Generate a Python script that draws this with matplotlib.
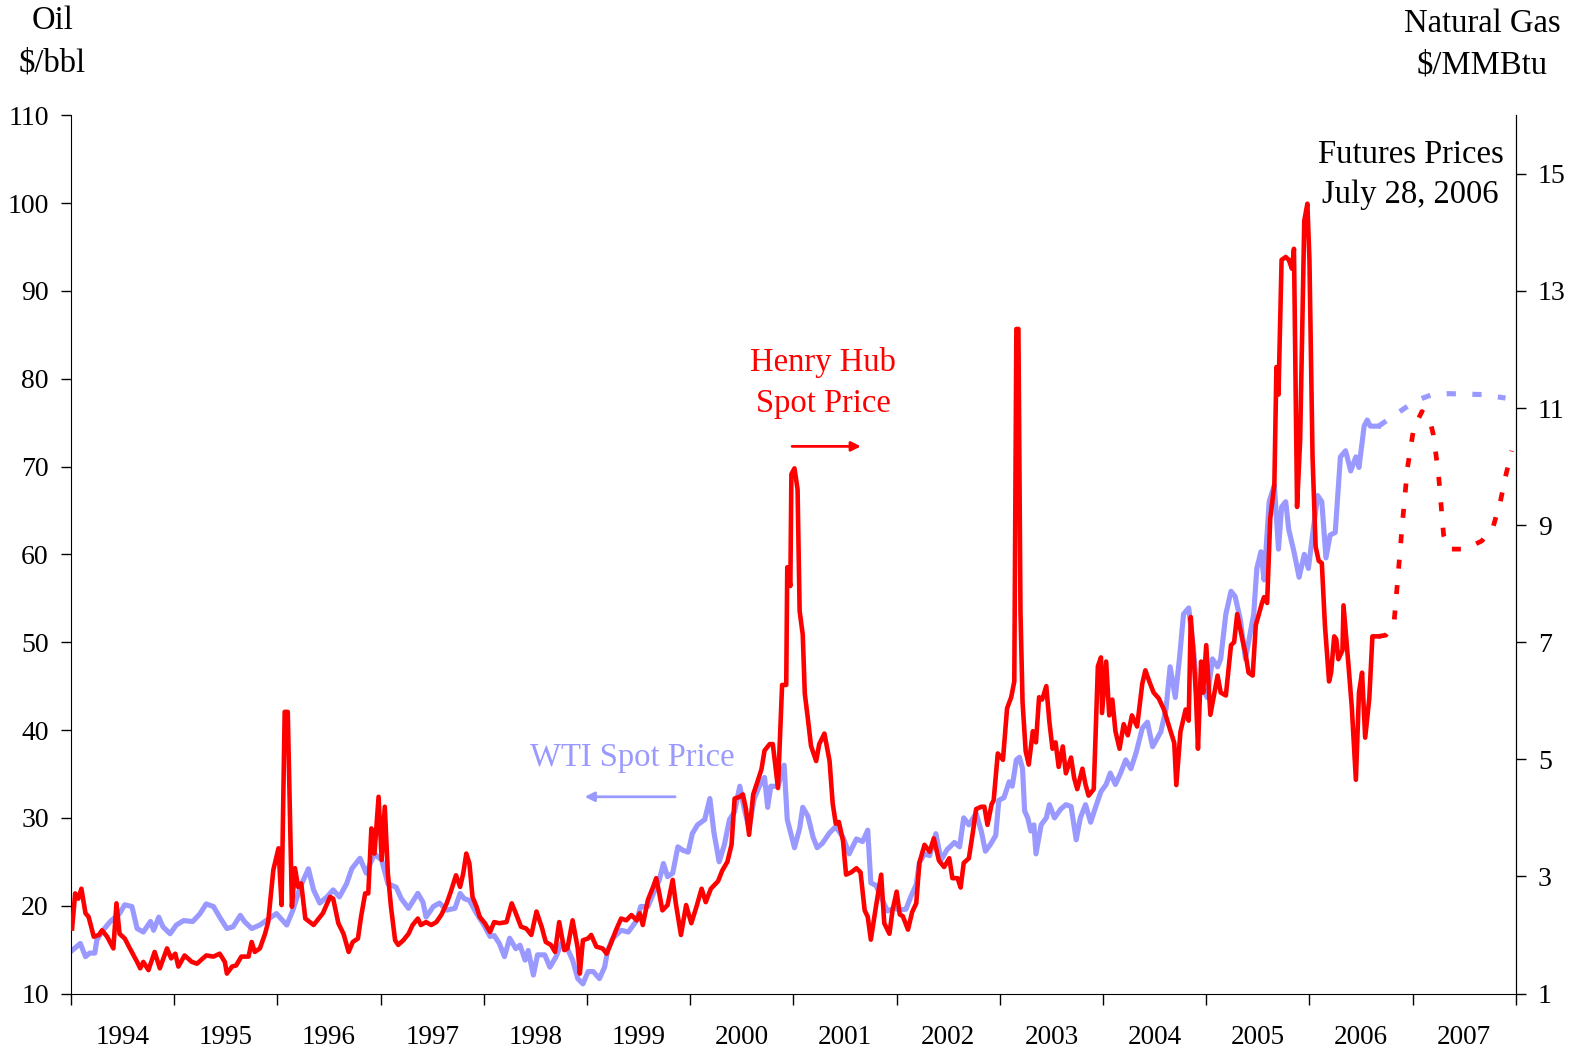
import matplotlib
matplotlib.use('Agg')
import matplotlib.pyplot as plt
from matplotlib.ticker import FixedLocator, NullFormatter

plt.rcParams['font.family'] = ['Liberation Serif', 'DejaVu Serif']

# WTI spot price ($/bbl), fractional years
wti_x = [1994.01, 1994.09, 1994.14, 1994.18, 1994.23, 1994.25, 1994.31, 1994.38, 1994.47, 1994.52,
         1994.59, 1994.64, 1994.70, 1994.77, 1994.80, 1994.85, 1994.89, 1994.96, 1995.02, 1995.09,
         1995.18, 1995.25, 1995.31, 1995.38, 1995.44, 1995.51, 1995.57, 1995.64, 1995.68, 1995.75,
         1995.83, 1995.89, 1995.99, 1996.09, 1996.15, 1996.22, 1996.30, 1996.35, 1996.41, 1996.48,
         1996.54, 1996.60, 1996.67, 1996.72, 1996.80, 1996.86, 1996.94, 1997.01, 1997.07, 1997.15,
         1997.20, 1997.27, 1997.36, 1997.41, 1997.44, 1997.51, 1997.57, 1997.64, 1997.72, 1997.77,
         1997.81, 1997.86, 1997.93, 1997.99, 1998.06, 1998.10, 1998.15, 1998.20, 1998.25, 1998.31,
         1998.35, 1998.40, 1998.43, 1998.48, 1998.52, 1998.59, 1998.64, 1998.70, 1998.75, 1998.81,
         1998.86, 1998.91, 1998.96, 1999.01, 1999.06, 1999.12, 1999.17, 1999.20, 1999.25, 1999.33,
         1999.40, 1999.48, 1999.52, 1999.59, 1999.65, 1999.70, 1999.74, 1999.78, 1999.83, 1999.88,
         1999.93, 1999.98, 2000.02, 2000.07, 2000.14, 2000.19, 2000.23, 2000.28, 2000.33, 2000.38,
         2000.43, 2000.48, 2000.52, 2000.57, 2000.62, 2000.67, 2000.72, 2000.75, 2000.78, 2000.85,
         2000.91, 2000.94, 2001.01, 2001.06, 2001.09, 2001.14, 2001.19, 2001.23, 2001.28, 2001.35,
         2001.41, 2001.48, 2001.54, 2001.61, 2001.67, 2001.72, 2001.75, 2001.80, 2001.86, 2001.91,
         2001.98, 2002.03, 2002.09, 2002.14, 2002.19, 2002.22, 2002.27, 2002.32, 2002.38, 2002.43,
         2002.49, 2002.56, 2002.61, 2002.65, 2002.70, 2002.77, 2002.82, 2002.86, 2002.91, 2002.96,
         2002.99, 2003.04, 2003.09, 2003.12, 2003.16, 2003.19, 2003.22, 2003.24, 2003.27, 2003.30,
         2003.33, 2003.35, 2003.40, 2003.45, 2003.48, 2003.53, 2003.59, 2003.64, 2003.69, 2003.74,
         2003.78, 2003.83, 2003.88, 2003.93, 2003.98, 2004.03, 2004.07, 2004.12, 2004.17, 2004.22,
         2004.27, 2004.32, 2004.38, 2004.43, 2004.48, 2004.56, 2004.61, 2004.65, 2004.70, 2004.74,
         2004.78, 2004.83, 2004.88, 2004.91, 2004.96, 2005.01, 2005.06, 2005.11, 2005.14, 2005.19,
         2005.24, 2005.28, 2005.33, 2005.38, 2005.41, 2005.46, 2005.49, 2005.53, 2005.56, 2005.61,
         2005.66, 2005.70, 2005.73, 2005.77, 2005.80, 2005.85, 2005.90, 2005.95, 2005.99, 2006.03,
         2006.08, 2006.12, 2006.16, 2006.20, 2006.25, 2006.30, 2006.35, 2006.40, 2006.45, 2006.48,
         2006.53, 2006.56, 2006.59, 2006.67]
wti = [14.9, 15.7, 14.2, 14.6, 14.6, 16.1, 17.2, 18.2, 19.1, 20.1,
       19.9, 17.4, 17.0, 18.2, 17.2, 18.7, 17.6, 16.8, 17.8, 18.3,
       18.2, 19.1, 20.2, 19.9, 18.7, 17.4, 17.6, 18.9, 18.2, 17.4,
       17.8, 18.3, 19.1, 17.8, 19.5, 22.1, 24.2, 21.8, 20.3, 21.0,
       21.8, 21.0, 22.5, 24.2, 25.4, 23.7, 25.9, 25.2, 22.5, 22.1,
       20.8, 19.7, 21.4, 20.4, 18.7, 19.9, 20.3, 19.5, 19.7, 21.4,
       20.8, 20.6, 19.1, 18.0, 16.5, 16.6, 15.7, 14.2, 16.3, 15.1,
       15.5, 13.8, 14.9, 12.1, 14.4, 14.4, 13.0, 14.2, 15.7, 15.1,
       13.8, 11.7, 11.1, 12.5, 12.5, 11.7, 13.0, 14.9, 16.3, 17.2,
       17.0, 18.3, 19.9, 19.9, 21.6, 22.9, 24.8, 23.3, 23.7, 26.7,
       26.3, 26.1, 28.2, 29.2, 29.8, 32.2, 28.3, 25.0, 26.9, 29.8,
       30.7, 33.6, 31.2, 28.8, 32.2, 33.6, 34.6, 31.2, 33.6, 33.6,
       36.0, 29.8, 26.6, 28.8, 31.2, 30.2, 27.8, 26.6, 27.1, 28.3,
       29.0, 27.8, 25.9, 27.6, 27.3, 28.6, 22.6, 22.3, 20.7, 19.4,
       19.7, 19.5, 19.6, 21.1, 22.4, 24.9, 25.9, 25.7, 28.2, 25.2,
       26.4, 27.2, 26.7, 30.0, 29.2, 30.5, 28.5, 26.2, 27.0, 28.0,
       32.0, 32.3, 34.1, 33.6, 36.6, 36.9, 35.6, 30.8, 30.0, 28.5,
       29.2, 25.9, 29.2, 30.0, 31.5, 30.0, 31.0, 31.5, 31.3, 27.5,
       30.0, 31.5, 29.5, 31.3, 33.0, 33.8, 35.1, 33.8, 35.1, 36.6,
       35.6, 37.4, 40.2, 40.9, 38.1, 39.8, 42.4, 47.2, 43.7, 48.1,
       53.2, 53.9, 48.8, 43.7, 44.9, 43.7, 48.1, 47.2, 48.1, 53.2,
       55.8, 55.2, 52.6, 48.1, 50.0, 53.2, 58.4, 60.3, 57.1, 66.0,
       67.9, 60.6, 65.4, 66.0, 62.8, 60.3, 57.4, 60.0, 58.4, 62.2,
       66.7, 66.0, 59.6, 62.2, 62.5, 71.1, 71.8, 69.5, 71.1, 69.9,
       74.6, 75.3, 74.6, 74.6]

# WTI futures (July 28, 2006)
wti_fut_x = [2006.67, 2006.83, 2007.03, 2007.19, 2007.35, 2007.67, 2007.90]
wti_fut = [74.6, 75.9, 77.5, 78.2, 78.3, 78.2, 77.8]

# Henry Hub spot price ($/MMBtu)
hh_x = [1994.01, 1994.04, 1994.07, 1994.10, 1994.14, 1994.17, 1994.22, 1994.27, 1994.30, 1994.35,
        1994.41, 1994.44, 1994.47, 1994.52, 1994.57, 1994.64, 1994.67, 1994.70, 1994.75, 1994.81,
        1994.86, 1994.93, 1994.97, 1995.01, 1995.04, 1995.10, 1995.17, 1995.22, 1995.31, 1995.38,
        1995.44, 1995.49, 1995.51, 1995.56, 1995.60, 1995.65, 1995.72, 1995.75, 1995.78, 1995.83,
        1995.88, 1995.91, 1995.96, 1996.01, 1996.04, 1996.07, 1996.10, 1996.14, 1996.17, 1996.20,
        1996.23, 1996.27, 1996.35, 1996.44, 1996.51, 1996.54, 1996.59, 1996.64, 1996.69, 1996.73,
        1996.78, 1996.81, 1996.85, 1996.88, 1996.91, 1996.94, 1996.98, 1997.01, 1997.04, 1997.07,
        1997.10, 1997.14, 1997.17, 1997.22, 1997.27, 1997.31, 1997.36, 1997.39, 1997.44, 1997.49,
        1997.54, 1997.59, 1997.64, 1997.68, 1997.73, 1997.77, 1997.80, 1997.83, 1997.86, 1997.89,
        1997.93, 1997.96, 1998.01, 1998.06, 1998.10, 1998.15, 1998.22, 1998.27, 1998.31, 1998.36,
        1998.41, 1998.46, 1998.51, 1998.56, 1998.60, 1998.65, 1998.69, 1998.73, 1998.78, 1998.81,
        1998.86, 1998.91, 1998.93, 1998.96, 1999.01, 1999.04, 1999.09, 1999.15, 1999.19, 1999.23,
        1999.28, 1999.33, 1999.38, 1999.43, 1999.48, 1999.51, 1999.54, 1999.59, 1999.64, 1999.67,
        1999.70, 1999.73, 1999.78, 1999.83, 1999.86, 1999.91, 1999.96, 2000.01, 2000.06, 2000.11,
        2000.15, 2000.20, 2000.27, 2000.31, 2000.36, 2000.40, 2000.43, 2000.48, 2000.51, 2000.54,
        2000.57, 2000.61, 2000.65, 2000.69, 2000.72, 2000.77, 2000.80, 2000.85, 2000.89, 2000.93,
        2000.94, 2000.97, 2000.98, 2001.01, 2001.04, 2001.06, 2001.09, 2001.11, 2001.14, 2001.17,
        2001.22, 2001.25, 2001.30, 2001.35, 2001.38, 2001.41, 2001.44, 2001.48, 2001.51, 2001.56,
        2001.61, 2001.65, 2001.69, 2001.72, 2001.75, 2001.80, 2001.85, 2001.88, 2001.93, 2001.96,
        2002.00, 2002.03, 2002.06, 2002.11, 2002.15, 2002.19, 2002.22, 2002.27, 2002.32, 2002.36,
        2002.41, 2002.46, 2002.51, 2002.54, 2002.59, 2002.62, 2002.65, 2002.70, 2002.74, 2002.77,
        2002.82, 2002.85, 2002.88, 2002.92, 2002.94, 2002.98, 2003.03, 2003.07, 2003.11, 2003.14,
        2003.16, 2003.18, 2003.20, 2003.22, 2003.25, 2003.28, 2003.32, 2003.35, 2003.38, 2003.41,
        2003.45, 2003.48, 2003.51, 2003.54, 2003.57, 2003.61, 2003.64, 2003.69, 2003.72, 2003.75,
        2003.80, 2003.83, 2003.86, 2003.91, 2003.95, 2003.98, 2003.99, 2004.03, 2004.06, 2004.09,
        2004.12, 2004.16, 2004.20, 2004.24, 2004.28, 2004.33, 2004.38, 2004.41, 2004.45, 2004.49,
        2004.54, 2004.59, 2004.64, 2004.69, 2004.71, 2004.75, 2004.80, 2004.83, 2004.85, 2004.88,
        2004.90, 2004.92, 2004.95, 2004.97, 2005.00, 2005.04, 2005.11, 2005.14, 2005.19, 2005.24,
        2005.27, 2005.30, 2005.35, 2005.38, 2005.41, 2005.45, 2005.48, 2005.51, 2005.54, 2005.56,
        2005.59, 2005.62, 2005.66, 2005.68, 2005.70, 2005.73, 2005.77, 2005.80, 2005.83, 2005.85,
        2005.88, 2005.91, 2005.95, 2005.98, 2006.00, 2006.03, 2006.06, 2006.09, 2006.12, 2006.15,
        2006.19, 2006.21, 2006.24, 2006.26, 2006.28, 2006.32, 2006.33, 2006.38, 2006.41, 2006.45,
        2006.48, 2006.51, 2006.54, 2006.58, 2006.61, 2006.67]
hh = [2.11, 2.71, 2.62, 2.79, 2.37, 2.31, 1.97, 2.00, 2.08, 1.97,
      1.77, 2.54, 2.02, 1.94, 1.77, 1.54, 1.43, 1.54, 1.40, 1.71,
      1.43, 1.77, 1.60, 1.68, 1.46, 1.65, 1.54, 1.51, 1.65, 1.63,
      1.68, 1.54, 1.34, 1.46, 1.48, 1.63, 1.63, 1.88, 1.71, 1.77,
      2.02, 2.22, 3.11, 3.48, 2.51, 5.81, 5.81, 2.48, 3.14, 2.82,
      2.88, 2.28, 2.17, 2.37, 2.65, 2.62, 2.20, 2.02, 1.71, 1.88,
      1.94, 2.31, 2.71, 2.71, 3.82, 3.39, 4.36, 3.28, 4.19, 3.05,
      2.48, 1.91, 1.83, 1.91, 2.02, 2.17, 2.28, 2.17, 2.22, 2.17,
      2.22, 2.35, 2.54, 2.74, 3.02, 2.82, 3.05, 3.39, 3.22, 2.65,
      2.48, 2.31, 2.20, 2.05, 2.22, 2.20, 2.22, 2.54, 2.37, 2.14,
      2.11, 2.00, 2.40, 2.14, 1.88, 1.83, 1.71, 2.22, 1.74, 1.77,
      2.25, 1.77, 1.34, 1.91, 1.94, 2.00, 1.80, 1.77, 1.68, 1.85,
      2.08, 2.28, 2.25, 2.34, 2.25, 2.37, 2.17, 2.60, 2.82, 2.97,
      2.71, 2.42, 2.51, 2.94, 2.54, 2.00, 2.51, 2.20, 2.48, 2.79,
      2.56, 2.79, 2.92, 3.10, 3.25, 3.54, 4.33, 4.36, 4.40, 4.15,
      3.71, 4.40, 4.61, 4.83, 5.15, 5.26, 5.26, 4.51, 6.27, 6.27,
      8.28, 7.96, 9.87, 9.97, 9.61, 7.53, 7.13, 6.12, 5.69, 5.23,
      4.97, 5.26, 5.44, 4.97, 4.25, 3.90, 3.93, 3.61, 3.03, 3.07,
      3.14, 3.07, 2.42, 2.31, 1.92, 2.49, 3.03, 2.20, 2.02, 2.42,
      2.74, 2.35, 2.32, 2.09, 2.39, 2.54, 3.23, 3.54, 3.42, 3.65,
      3.27, 3.16, 3.31, 2.97, 2.97, 2.81, 3.23, 3.31, 3.77, 4.15,
      4.19, 4.19, 3.88, 4.23, 4.30, 5.10, 4.99, 5.87, 6.06, 6.33,
      12.35, 12.35, 7.51, 5.98, 5.14, 4.91, 5.48, 5.29, 6.06, 6.02,
      6.25, 5.64, 5.18, 5.29, 4.87, 5.22, 4.76, 5.03, 4.68, 4.49,
      4.84, 4.57, 4.38, 4.49, 6.59, 6.74, 5.79, 6.67, 5.75, 6.02,
      5.48, 5.18, 5.60, 5.41, 5.75, 5.56, 6.29, 6.52, 6.32, 6.14,
      6.04, 5.85, 5.56, 5.28, 4.56, 5.47, 5.85, 5.66, 7.43, 6.71,
      6.09, 5.18, 6.67, 6.14, 6.95, 5.76, 6.43, 6.14, 6.09, 6.95,
      7.00, 7.48, 7.05, 6.81, 6.48, 6.43, 7.29, 7.48, 7.67, 7.77,
      7.67, 9.11, 9.69, 11.70, 11.23, 13.53, 13.58, 13.53, 13.38, 13.72,
      9.31, 10.46, 14.20, 14.49, 13.53, 10.17, 8.63, 8.39, 8.35, 7.29,
      6.33, 6.48, 7.10, 7.05, 6.71, 6.86, 7.63, 6.57, 5.90, 4.65,
      6.14, 6.48, 5.37, 6.04, 7.10, 7.10]

# Henry Hub futures (July 28, 2006)
hh_fut_x = [2006.67, 2006.74, 2006.82, 2006.85, 2006.90, 2006.95, 2007.01, 2007.09, 2007.16,
            2007.20, 2007.25, 2007.30, 2007.35, 2007.51, 2007.67, 2007.78, 2007.85, 2007.90, 2007.96]
hh_fut = [7.10, 7.12, 7.34, 7.96, 9.02, 9.98, 10.65, 10.94, 10.84,
          10.55, 9.88, 8.83, 8.59, 8.59, 8.73, 8.97, 9.40, 9.83, 10.27]

years = list(range(1994, 2008))
oil_ticks = list(range(10, 111, 10))
gas_ticks = list(range(1, 16, 2))

BLUE = '#9999FF'
RED = '#FF0000'

fig = plt.figure(figsize=(15.79, 10.48), dpi=100)
ax = fig.add_axes([0.045, 0.052, 0.915, 0.838])
ax2 = ax.twinx()

ax.plot(wti_x, wti, color=BLUE, lw=3.7, zorder=2)
ax.plot(wti_fut_x, wti_fut, color=BLUE, lw=3.7, dashes=(1.8, 3.2), dash_capstyle='butt')
ax2.plot(hh_x, hh, color=RED, lw=3.3, zorder=3)
ax2.plot(hh_fut_x, hh_fut, color=RED, lw=3.4, dashes=(1.9, 3.5), dash_capstyle='butt')

ax.set_xlim(1994, 2008)
ax.set_ylim(10, 110)
ax2.set_ylim(1, 16)
ax.set_zorder(ax2.get_zorder() - 1)
ax.patch.set_visible(False)

for a in (ax, ax2):
    a.spines['top'].set_visible(False)
ax2.spines['left'].set_visible(False)
ax2.spines['bottom'].set_visible(False)

ax.set_yticks(oil_ticks)
ax.tick_params(axis='y', direction='out', length=7, width=1, labelsize=20, pad=9)
ax2.set_yticks(gas_ticks)
ax2.tick_params(axis='y', direction='out', length=7, width=1, labelsize=20, pad=9)

ax.xaxis.set_major_locator(FixedLocator(years + [2008]))
ax.xaxis.set_major_formatter(NullFormatter())
ax.xaxis.set_minor_locator(FixedLocator([y + 0.5 for y in years]))
ax.set_xticklabels([str(y) for y in years], minor=True)
ax.tick_params(axis='x', which='major', direction='out', length=8, width=1)
ax.tick_params(axis='x', which='minor', length=0, labelsize=19.5, pad=23)

fs = 23.5
fig.text(0.033, 0.980, 'Oil', ha='center', va='center', fontsize=fs)
fig.text(0.033, 0.940, '$/bbl', ha='center', va='center', fontsize=fs)
fig.text(0.9386, 0.977, 'Natural Gas', ha='center', va='center', fontsize=fs)
fig.text(0.9386, 0.938, '$/MMBtu', ha='center', va='center', fontsize=fs)

ax.text(2006.98, 105.5, 'Futures Prices', ha='center', va='center', fontsize=fs)
ax.text(2006.98, 100.9, 'July 28, 2006', ha='center', va='center', fontsize=fs)

ax.text(2001.29, 81.9, 'Henry Hub', ha='center', va='center', fontsize=fs, color=RED)
ax.text(2001.29, 77.2, 'Spot Price', ha='center', va='center', fontsize=fs, color=RED)
ax.annotate('', xy=(2001.68, 72.3), xytext=(2000.96, 72.3),
            arrowprops=dict(arrowstyle='-|>', color=RED, lw=2, mutation_scale=14))

ax.text(1999.44, 36.9, 'WTI Spot Price', ha='center', va='center', fontsize=fs, color=BLUE)
ax.annotate('', xy=(1998.95, 32.4), xytext=(1999.88, 32.4),
            arrowprops=dict(arrowstyle='-|>', color=BLUE, lw=2, mutation_scale=14))

fig.savefig('out.png', dpi=100)
